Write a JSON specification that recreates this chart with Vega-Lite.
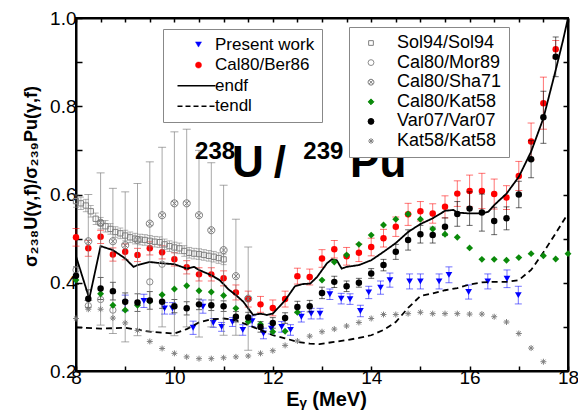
{
  "$schema": "https://vega.github.io/schema/vega-lite/v6.json",
  "width": 492,
  "height": 353,
  "autosize": {"type": "none"},
  "padding": {"left": 76, "top": 18, "right": 10, "bottom": 40},
  "background": "white",
  "config": {
    "font": "Liberation Sans",
    "view": {"stroke": "black", "strokeWidth": 2},
    "axis": {"domainColor": "black", "domainWidth": 2, "tickColor": "black", "tickWidth": 1.5, "labelColor": "black", "labelFontSize": 19, "labelFont": "Liberation Sans", "grid": false, "titleColor": "black", "titleFont": "Liberation Sans"}
  },
  "datasets": {
    "pts": [
      {"s": "Present work", "x": 9.0, "y": 0.354, "e": 0.018},
      {"s": "Present work", "x": 9.38, "y": 0.359, "e": 0.015},
      {"s": "Present work", "x": 9.8, "y": 0.342, "e": 0.013},
      {"s": "Present work", "x": 9.96, "y": 0.342, "e": 0.013},
      {"s": "Present work", "x": 10.38, "y": 0.298, "e": 0.015},
      {"s": "Present work", "x": 10.58, "y": 0.346, "e": 0.015},
      {"s": "Present work", "x": 10.79, "y": 0.309, "e": 0.01},
      {"s": "Present work", "x": 10.96, "y": 0.3, "e": 0.01},
      {"s": "Present work", "x": 11.18, "y": 0.311, "e": 0.01},
      {"s": "Present work", "x": 11.39, "y": 0.293, "e": 0.012},
      {"s": "Present work", "x": 11.58, "y": 0.313, "e": 0.012},
      {"s": "Present work", "x": 11.81, "y": 0.285, "e": 0.012},
      {"s": "Present work", "x": 11.97, "y": 0.296, "e": 0.012},
      {"s": "Present work", "x": 12.18, "y": 0.3, "e": 0.012},
      {"s": "Present work", "x": 12.36, "y": 0.293, "e": 0.012},
      {"s": "Present work", "x": 12.58, "y": 0.323, "e": 0.012},
      {"s": "Present work", "x": 12.78, "y": 0.33, "e": 0.012},
      {"s": "Present work", "x": 12.96, "y": 0.33, "e": 0.012},
      {"s": "Present work", "x": 13.16, "y": 0.374, "e": 0.012},
      {"s": "Present work", "x": 13.39, "y": 0.364, "e": 0.012},
      {"s": "Present work", "x": 13.57, "y": 0.363, "e": 0.012},
      {"s": "Present work", "x": 13.78, "y": 0.336, "e": 0.013},
      {"s": "Present work", "x": 13.95, "y": 0.378, "e": 0.014},
      {"s": "Present work", "x": 14.19, "y": 0.389, "e": 0.015},
      {"s": "Present work", "x": 14.38, "y": 0.406, "e": 0.016},
      {"s": "Present work", "x": 14.78, "y": 0.403, "e": 0.017},
      {"s": "Present work", "x": 15.0, "y": 0.403, "e": 0.017},
      {"s": "Present work", "x": 15.38, "y": 0.403, "e": 0.017},
      {"s": "Present work", "x": 15.58, "y": 0.418, "e": 0.018},
      {"s": "Present work", "x": 15.98, "y": 0.379, "e": 0.016},
      {"s": "Present work", "x": 16.37, "y": 0.403, "e": 0.017},
      {"s": "Present work", "x": 16.76, "y": 0.409, "e": 0.02},
      {"s": "Present work", "x": 16.99, "y": 0.372, "e": 0.02},
      {"s": "Cal80/Ber86", "x": 8.0, "y": 0.503, "e": 0.02},
      {"s": "Cal80/Ber86", "x": 8.25, "y": 0.478, "e": 0.018},
      {"s": "Cal80/Ber86", "x": 8.5, "y": 0.504, "e": 0.015},
      {"s": "Cal80/Ber86", "x": 8.75, "y": 0.464, "e": 0.015},
      {"s": "Cal80/Ber86", "x": 9.0, "y": 0.47, "e": 0.018},
      {"s": "Cal80/Ber86", "x": 9.25, "y": 0.463, "e": 0.015},
      {"s": "Cal80/Ber86", "x": 9.5, "y": 0.478, "e": 0.015},
      {"s": "Cal80/Ber86", "x": 9.75, "y": 0.469, "e": 0.015},
      {"s": "Cal80/Ber86", "x": 10.0, "y": 0.453, "e": 0.015},
      {"s": "Cal80/Ber86", "x": 10.25, "y": 0.435, "e": 0.015},
      {"s": "Cal80/Ber86", "x": 10.5, "y": 0.419, "e": 0.015},
      {"s": "Cal80/Ber86", "x": 10.75, "y": 0.419, "e": 0.015},
      {"s": "Cal80/Ber86", "x": 11.0, "y": 0.41, "e": 0.017},
      {"s": "Cal80/Ber86", "x": 11.25, "y": 0.378, "e": 0.017},
      {"s": "Cal80/Ber86", "x": 11.5, "y": 0.363, "e": 0.018},
      {"s": "Cal80/Ber86", "x": 11.75, "y": 0.351, "e": 0.018},
      {"s": "Cal80/Ber86", "x": 12.0, "y": 0.343, "e": 0.018},
      {"s": "Cal80/Ber86", "x": 12.25, "y": 0.363, "e": 0.018},
      {"s": "Cal80/Ber86", "x": 12.5, "y": 0.415, "e": 0.018},
      {"s": "Cal80/Ber86", "x": 12.75, "y": 0.413, "e": 0.018},
      {"s": "Cal80/Ber86", "x": 13.0, "y": 0.455, "e": 0.02},
      {"s": "Cal80/Ber86", "x": 13.25, "y": 0.476, "e": 0.02},
      {"s": "Cal80/Ber86", "x": 13.5, "y": 0.46, "e": 0.02},
      {"s": "Cal80/Ber86", "x": 13.75, "y": 0.468, "e": 0.02},
      {"s": "Cal80/Ber86", "x": 14.0, "y": 0.481, "e": 0.02},
      {"s": "Cal80/Ber86", "x": 14.25, "y": 0.501, "e": 0.02},
      {"s": "Cal80/Ber86", "x": 14.5, "y": 0.527, "e": 0.022},
      {"s": "Cal80/Ber86", "x": 14.75, "y": 0.555, "e": 0.025},
      {"s": "Cal80/Ber86", "x": 15.0, "y": 0.562, "e": 0.022},
      {"s": "Cal80/Ber86", "x": 15.25, "y": 0.557, "e": 0.022},
      {"s": "Cal80/Ber86", "x": 15.5, "y": 0.572, "e": 0.025},
      {"s": "Cal80/Ber86", "x": 15.75, "y": 0.602, "e": 0.029},
      {"s": "Cal80/Ber86", "x": 16.0, "y": 0.608, "e": 0.036},
      {"s": "Cal80/Ber86", "x": 16.25, "y": 0.608, "e": 0.04},
      {"s": "Cal80/Ber86", "x": 16.5, "y": 0.601, "e": 0.034},
      {"s": "Cal80/Ber86", "x": 16.75, "y": 0.593, "e": 0.027},
      {"s": "Cal80/Ber86", "x": 17.0, "y": 0.642, "e": 0.033},
      {"s": "Cal80/Ber86", "x": 17.25, "y": 0.72, "e": 0.042},
      {"s": "Cal80/Ber86", "x": 17.5, "y": 0.807, "e": 0.059},
      {"s": "Cal80/Ber86", "x": 17.75, "y": 0.929, "e": 0.02},
      {"s": "Var07/Var07", "x": 8.0, "y": 0.416, "e": 0.02},
      {"s": "Var07/Var07", "x": 8.25, "y": 0.364, "e": 0.02},
      {"s": "Var07/Var07", "x": 8.5, "y": 0.387, "e": 0.025},
      {"s": "Var07/Var07", "x": 8.75, "y": 0.381, "e": 0.02},
      {"s": "Var07/Var07", "x": 9.0, "y": 0.357, "e": 0.02},
      {"s": "Var07/Var07", "x": 9.25, "y": 0.355, "e": 0.02},
      {"s": "Var07/Var07", "x": 9.5, "y": 0.36, "e": 0.02},
      {"s": "Var07/Var07", "x": 9.75, "y": 0.357, "e": 0.015},
      {"s": "Var07/Var07", "x": 10.0, "y": 0.347, "e": 0.015},
      {"s": "Var07/Var07", "x": 10.25, "y": 0.342, "e": 0.015},
      {"s": "Var07/Var07", "x": 10.5, "y": 0.351, "e": 0.012},
      {"s": "Var07/Var07", "x": 10.75, "y": 0.349, "e": 0.012},
      {"s": "Var07/Var07", "x": 11.0, "y": 0.347, "e": 0.012},
      {"s": "Var07/Var07", "x": 11.25, "y": 0.323, "e": 0.012},
      {"s": "Var07/Var07", "x": 11.5, "y": 0.321, "e": 0.012},
      {"s": "Var07/Var07", "x": 11.75, "y": 0.3, "e": 0.012},
      {"s": "Var07/Var07", "x": 12.0, "y": 0.309, "e": 0.012},
      {"s": "Var07/Var07", "x": 12.25, "y": 0.32, "e": 0.012},
      {"s": "Var07/Var07", "x": 12.5, "y": 0.345, "e": 0.013},
      {"s": "Var07/Var07", "x": 12.75, "y": 0.347, "e": 0.013},
      {"s": "Var07/Var07", "x": 13.0, "y": 0.377, "e": 0.013},
      {"s": "Var07/Var07", "x": 13.25, "y": 0.402, "e": 0.013},
      {"s": "Var07/Var07", "x": 13.5, "y": 0.392, "e": 0.012},
      {"s": "Var07/Var07", "x": 13.75, "y": 0.4, "e": 0.01},
      {"s": "Var07/Var07", "x": 14.0, "y": 0.421, "e": 0.011},
      {"s": "Var07/Var07", "x": 14.25, "y": 0.44, "e": 0.013},
      {"s": "Var07/Var07", "x": 14.5, "y": 0.47, "e": 0.017},
      {"s": "Var07/Var07", "x": 14.75, "y": 0.497, "e": 0.023},
      {"s": "Var07/Var07", "x": 15.0, "y": 0.51, "e": 0.02},
      {"s": "Var07/Var07", "x": 15.25, "y": 0.508, "e": 0.018},
      {"s": "Var07/Var07", "x": 15.5, "y": 0.527, "e": 0.02},
      {"s": "Var07/Var07", "x": 15.75, "y": 0.556, "e": 0.028},
      {"s": "Var07/Var07", "x": 16.0, "y": 0.568, "e": 0.038},
      {"s": "Var07/Var07", "x": 16.25, "y": 0.559, "e": 0.042},
      {"s": "Var07/Var07", "x": 16.5, "y": 0.54, "e": 0.031},
      {"s": "Var07/Var07", "x": 16.75, "y": 0.546, "e": 0.026},
      {"s": "Var07/Var07", "x": 17.0, "y": 0.6, "e": 0.03},
      {"s": "Var07/Var07", "x": 17.25, "y": 0.68, "e": 0.042},
      {"s": "Var07/Var07", "x": 17.5, "y": 0.775, "e": 0.059},
      {"s": "Var07/Var07", "x": 17.75, "y": 0.912, "e": 0.045},
      {"s": "Cal80/Kat58", "x": 8.0, "y": 0.406},
      {"s": "Cal80/Kat58", "x": 8.5, "y": 0.375},
      {"s": "Cal80/Kat58", "x": 8.75, "y": 0.349},
      {"s": "Cal80/Kat58", "x": 9.0, "y": 0.338},
      {"s": "Cal80/Kat58", "x": 9.25, "y": 0.349},
      {"s": "Cal80/Kat58", "x": 9.5, "y": 0.358},
      {"s": "Cal80/Kat58", "x": 9.75, "y": 0.373},
      {"s": "Cal80/Kat58", "x": 10.0, "y": 0.386},
      {"s": "Cal80/Kat58", "x": 10.25, "y": 0.393},
      {"s": "Cal80/Kat58", "x": 10.5, "y": 0.382},
      {"s": "Cal80/Kat58", "x": 10.75, "y": 0.379},
      {"s": "Cal80/Kat58", "x": 11.0, "y": 0.371},
      {"s": "Cal80/Kat58", "x": 11.25, "y": 0.342},
      {"s": "Cal80/Kat58", "x": 11.5, "y": 0.312},
      {"s": "Cal80/Kat58", "x": 11.75, "y": 0.306},
      {"s": "Cal80/Kat58", "x": 12.0, "y": 0.289},
      {"s": "Cal80/Kat58", "x": 12.25, "y": 0.29},
      {"s": "Cal80/Kat58", "x": 12.5, "y": 0.333},
      {"s": "Cal80/Kat58", "x": 13.0, "y": 0.406},
      {"s": "Cal80/Kat58", "x": 13.25, "y": 0.447},
      {"s": "Cal80/Kat58", "x": 13.5, "y": 0.463},
      {"s": "Cal80/Kat58", "x": 13.75, "y": 0.487},
      {"s": "Cal80/Kat58", "x": 14.0, "y": 0.508},
      {"s": "Cal80/Kat58", "x": 14.25, "y": 0.531},
      {"s": "Cal80/Kat58", "x": 14.5, "y": 0.544},
      {"s": "Cal80/Kat58", "x": 14.75, "y": 0.556},
      {"s": "Cal80/Kat58", "x": 15.0, "y": 0.544},
      {"s": "Cal80/Kat58", "x": 15.25, "y": 0.522},
      {"s": "Cal80/Kat58", "x": 15.5, "y": 0.51},
      {"s": "Cal80/Kat58", "x": 15.75, "y": 0.503},
      {"s": "Cal80/Kat58", "x": 16.0, "y": 0.479},
      {"s": "Cal80/Kat58", "x": 16.25, "y": 0.453},
      {"s": "Cal80/Kat58", "x": 16.5, "y": 0.453},
      {"s": "Cal80/Kat58", "x": 16.75, "y": 0.451},
      {"s": "Cal80/Kat58", "x": 17.0, "y": 0.457},
      {"s": "Cal80/Kat58", "x": 17.25, "y": 0.466},
      {"s": "Cal80/Kat58", "x": 17.5, "y": 0.461},
      {"s": "Cal80/Kat58", "x": 17.75, "y": 0.454},
      {"s": "Cal80/Kat58", "x": 18.0, "y": 0.466},
      {"s": "Kat58/Kat58", "x": 8.0, "y": 0.319},
      {"s": "Kat58/Kat58", "x": 8.25, "y": 0.34},
      {"s": "Kat58/Kat58", "x": 8.5, "y": 0.34},
      {"s": "Kat58/Kat58", "x": 8.75, "y": 0.32},
      {"s": "Kat58/Kat58", "x": 9.0, "y": 0.309},
      {"s": "Kat58/Kat58", "x": 9.25, "y": 0.292},
      {"s": "Kat58/Kat58", "x": 9.5, "y": 0.267},
      {"s": "Kat58/Kat58", "x": 9.75, "y": 0.251},
      {"s": "Kat58/Kat58", "x": 10.0, "y": 0.24},
      {"s": "Kat58/Kat58", "x": 10.25, "y": 0.232},
      {"s": "Kat58/Kat58", "x": 10.5, "y": 0.228},
      {"s": "Kat58/Kat58", "x": 10.75, "y": 0.228},
      {"s": "Kat58/Kat58", "x": 11.0, "y": 0.23},
      {"s": "Kat58/Kat58", "x": 11.25, "y": 0.232},
      {"s": "Kat58/Kat58", "x": 11.5, "y": 0.234},
      {"s": "Kat58/Kat58", "x": 11.75, "y": 0.24},
      {"s": "Kat58/Kat58", "x": 12.0, "y": 0.246},
      {"s": "Kat58/Kat58", "x": 12.25, "y": 0.258},
      {"s": "Kat58/Kat58", "x": 12.5, "y": 0.268},
      {"s": "Kat58/Kat58", "x": 12.75, "y": 0.279},
      {"s": "Kat58/Kat58", "x": 13.0, "y": 0.289},
      {"s": "Kat58/Kat58", "x": 13.25, "y": 0.295},
      {"s": "Kat58/Kat58", "x": 13.5, "y": 0.302},
      {"s": "Kat58/Kat58", "x": 13.75, "y": 0.31},
      {"s": "Kat58/Kat58", "x": 14.0, "y": 0.319},
      {"s": "Kat58/Kat58", "x": 14.25, "y": 0.328},
      {"s": "Kat58/Kat58", "x": 14.5, "y": 0.328},
      {"s": "Kat58/Kat58", "x": 14.75, "y": 0.33},
      {"s": "Kat58/Kat58", "x": 15.0, "y": 0.333},
      {"s": "Kat58/Kat58", "x": 15.25, "y": 0.33},
      {"s": "Kat58/Kat58", "x": 15.5, "y": 0.33},
      {"s": "Kat58/Kat58", "x": 15.75, "y": 0.33},
      {"s": "Kat58/Kat58", "x": 16.0, "y": 0.329},
      {"s": "Kat58/Kat58", "x": 16.25, "y": 0.329},
      {"s": "Kat58/Kat58", "x": 16.5, "y": 0.323},
      {"s": "Kat58/Kat58", "x": 16.75, "y": 0.311},
      {"s": "Kat58/Kat58", "x": 17.0, "y": 0.285},
      {"s": "Kat58/Kat58", "x": 17.25, "y": 0.252},
      {"s": "Kat58/Kat58", "x": 17.5, "y": 0.221},
      {"s": "Sol94/Sol94", "x": 8.0, "y": 0.585, "e": 0.014},
      {"s": "Sol94/Sol94", "x": 8.1, "y": 0.58, "e": 0.014},
      {"s": "Sol94/Sol94", "x": 8.2, "y": 0.575, "e": 0.014},
      {"s": "Sol94/Sol94", "x": 8.3, "y": 0.562, "e": 0.013},
      {"s": "Sol94/Sol94", "x": 8.4, "y": 0.545, "e": 0.013},
      {"s": "Sol94/Sol94", "x": 8.5, "y": 0.535, "e": 0.013},
      {"s": "Sol94/Sol94", "x": 8.6, "y": 0.528, "e": 0.013},
      {"s": "Sol94/Sol94", "x": 8.7, "y": 0.522, "e": 0.012},
      {"s": "Sol94/Sol94", "x": 8.8, "y": 0.515, "e": 0.012},
      {"s": "Sol94/Sol94", "x": 8.9, "y": 0.512, "e": 0.012},
      {"s": "Sol94/Sol94", "x": 9.0, "y": 0.507, "e": 0.012},
      {"s": "Sol94/Sol94", "x": 9.1, "y": 0.503, "e": 0.012},
      {"s": "Sol94/Sol94", "x": 9.2, "y": 0.5, "e": 0.012},
      {"s": "Sol94/Sol94", "x": 9.3, "y": 0.498, "e": 0.012},
      {"s": "Sol94/Sol94", "x": 9.4, "y": 0.497, "e": 0.012},
      {"s": "Sol94/Sol94", "x": 9.5, "y": 0.495, "e": 0.012},
      {"s": "Sol94/Sol94", "x": 9.6, "y": 0.493, "e": 0.012},
      {"s": "Sol94/Sol94", "x": 9.7, "y": 0.492, "e": 0.012},
      {"s": "Sol94/Sol94", "x": 9.8, "y": 0.487, "e": 0.012},
      {"s": "Sol94/Sol94", "x": 9.9, "y": 0.483, "e": 0.012},
      {"s": "Sol94/Sol94", "x": 10.0, "y": 0.48, "e": 0.012},
      {"s": "Sol94/Sol94", "x": 10.1, "y": 0.478, "e": 0.012},
      {"s": "Sol94/Sol94", "x": 10.2, "y": 0.472, "e": 0.012},
      {"s": "Sol94/Sol94", "x": 10.3, "y": 0.468, "e": 0.012},
      {"s": "Sol94/Sol94", "x": 10.4, "y": 0.466, "e": 0.012},
      {"s": "Sol94/Sol94", "x": 10.5, "y": 0.465, "e": 0.012},
      {"s": "Sol94/Sol94", "x": 10.6, "y": 0.463, "e": 0.012},
      {"s": "Sol94/Sol94", "x": 10.7, "y": 0.461, "e": 0.012},
      {"s": "Sol94/Sol94", "x": 10.8, "y": 0.459, "e": 0.012},
      {"s": "Sol94/Sol94", "x": 10.9, "y": 0.456, "e": 0.012},
      {"s": "Sol94/Sol94", "x": 11.0, "y": 0.453, "e": 0.012},
      {"s": "Cal80/Mor89", "x": 8.0, "y": 0.429},
      {"s": "Cal80/Mor89", "x": 8.25, "y": 0.348},
      {"s": "Cal80/Mor89", "x": 8.5, "y": 0.362},
      {"s": "Cal80/Mor89", "x": 8.75, "y": 0.338},
      {"s": "Cal80/Mor89", "x": 9.5, "y": 0.402},
      {"s": "Cal80/Mor89", "x": 9.75, "y": 0.442},
      {"s": "Cal80/Sha71", "x": 8.25, "y": 0.494, "lo": 0.36, "hi": 0.6},
      {"s": "Cal80/Sha71", "x": 8.5, "y": 0.536, "lo": 0.304, "hi": 0.649},
      {"s": "Cal80/Sha71", "x": 8.75, "y": 0.494, "lo": 0.285, "hi": 0.614},
      {"s": "Cal80/Sha71", "x": 9.0, "y": 0.485, "lo": 0.266, "hi": 0.606},
      {"s": "Cal80/Sha71", "x": 9.25, "y": 0.497, "lo": 0.28, "hi": 0.625},
      {"s": "Cal80/Sha71", "x": 9.5, "y": 0.534, "lo": 0.29, "hi": 0.674},
      {"s": "Cal80/Sha71", "x": 9.75, "y": 0.553, "lo": 0.3, "hi": 0.707},
      {"s": "Cal80/Sha71", "x": 10.0, "y": 0.58, "lo": 0.28, "hi": 0.742},
      {"s": "Cal80/Sha71", "x": 10.25, "y": 0.58, "lo": 0.3, "hi": 0.748},
      {"s": "Cal80/Sha71", "x": 10.5, "y": 0.553, "lo": 0.277, "hi": 0.7},
      {"s": "Cal80/Sha71", "x": 10.75, "y": 0.519, "lo": 0.3, "hi": 0.672},
      {"s": "Cal80/Sha71", "x": 11.0, "y": 0.474, "lo": 0.281, "hi": 0.621},
      {"s": "Cal80/Sha71", "x": 11.25, "y": 0.415, "lo": 0.281, "hi": 0.544},
      {"s": "Cal80/Sha71", "x": 11.5, "y": 0.364, "lo": 0.247, "hi": 0.481}
    ],
    "lines": [
      {"s": "endf", "x": 8.0, "y": 0.46},
      {"s": "endf", "x": 8.27, "y": 0.364},
      {"s": "endf", "x": 8.5, "y": 0.483},
      {"s": "endf", "x": 8.75, "y": 0.474},
      {"s": "endf", "x": 9.0, "y": 0.455},
      {"s": "endf", "x": 9.17, "y": 0.436},
      {"s": "endf", "x": 9.25, "y": 0.44},
      {"s": "endf", "x": 9.5, "y": 0.447},
      {"s": "endf", "x": 9.75, "y": 0.444},
      {"s": "endf", "x": 10.0, "y": 0.442},
      {"s": "endf", "x": 10.25, "y": 0.432},
      {"s": "endf", "x": 10.4, "y": 0.436},
      {"s": "endf", "x": 10.5, "y": 0.429},
      {"s": "endf", "x": 10.75, "y": 0.417},
      {"s": "endf", "x": 10.92, "y": 0.406},
      {"s": "endf", "x": 11.1, "y": 0.385},
      {"s": "endf", "x": 11.25, "y": 0.372},
      {"s": "endf", "x": 11.4, "y": 0.357},
      {"s": "endf", "x": 11.5, "y": 0.342},
      {"s": "endf", "x": 11.6, "y": 0.327},
      {"s": "endf", "x": 11.75, "y": 0.33},
      {"s": "endf", "x": 11.88, "y": 0.327},
      {"s": "endf", "x": 12.0, "y": 0.33},
      {"s": "endf", "x": 12.25, "y": 0.36},
      {"s": "endf", "x": 12.45, "y": 0.392},
      {"s": "endf", "x": 12.6, "y": 0.397},
      {"s": "endf", "x": 12.76, "y": 0.398},
      {"s": "endf", "x": 12.9, "y": 0.413},
      {"s": "endf", "x": 13.1, "y": 0.444},
      {"s": "endf", "x": 13.2, "y": 0.453},
      {"s": "endf", "x": 13.3, "y": 0.451},
      {"s": "endf", "x": 13.4, "y": 0.432},
      {"s": "endf", "x": 13.5, "y": 0.436},
      {"s": "endf", "x": 13.75, "y": 0.44},
      {"s": "endf", "x": 14.0, "y": 0.451},
      {"s": "endf", "x": 14.25, "y": 0.47},
      {"s": "endf", "x": 14.5, "y": 0.49},
      {"s": "endf", "x": 14.75, "y": 0.515},
      {"s": "endf", "x": 15.0, "y": 0.533},
      {"s": "endf", "x": 15.25, "y": 0.546},
      {"s": "endf", "x": 15.5, "y": 0.563},
      {"s": "endf", "x": 15.67, "y": 0.565},
      {"s": "endf", "x": 15.75, "y": 0.559},
      {"s": "endf", "x": 16.0, "y": 0.557},
      {"s": "endf", "x": 16.26, "y": 0.557},
      {"s": "endf", "x": 16.38, "y": 0.561},
      {"s": "endf", "x": 16.5, "y": 0.576},
      {"s": "endf", "x": 16.75, "y": 0.602},
      {"s": "endf", "x": 17.0, "y": 0.64},
      {"s": "endf", "x": 17.25, "y": 0.697},
      {"s": "endf", "x": 17.5, "y": 0.773},
      {"s": "endf", "x": 17.75, "y": 0.882},
      {"s": "endf", "x": 17.9, "y": 0.95},
      {"s": "endf", "x": 18.0, "y": 1.0},
      {"s": "tendl", "x": 8.0, "y": 0.299},
      {"s": "tendl", "x": 8.5, "y": 0.296},
      {"s": "tendl", "x": 9.0, "y": 0.298},
      {"s": "tendl", "x": 9.5, "y": 0.289},
      {"s": "tendl", "x": 10.0, "y": 0.285},
      {"s": "tendl", "x": 10.25, "y": 0.295},
      {"s": "tendl", "x": 10.5, "y": 0.31},
      {"s": "tendl", "x": 10.75, "y": 0.317},
      {"s": "tendl", "x": 11.0, "y": 0.319},
      {"s": "tendl", "x": 11.25, "y": 0.315},
      {"s": "tendl", "x": 11.5, "y": 0.304},
      {"s": "tendl", "x": 11.75, "y": 0.293},
      {"s": "tendl", "x": 12.0, "y": 0.281},
      {"s": "tendl", "x": 12.25, "y": 0.274},
      {"s": "tendl", "x": 12.5, "y": 0.266},
      {"s": "tendl", "x": 12.75, "y": 0.262},
      {"s": "tendl", "x": 12.95, "y": 0.261},
      {"s": "tendl", "x": 13.25, "y": 0.266},
      {"s": "tendl", "x": 13.5, "y": 0.27},
      {"s": "tendl", "x": 13.75, "y": 0.275},
      {"s": "tendl", "x": 14.0, "y": 0.281},
      {"s": "tendl", "x": 14.25, "y": 0.293},
      {"s": "tendl", "x": 14.5, "y": 0.311},
      {"s": "tendl", "x": 14.75, "y": 0.343},
      {"s": "tendl", "x": 15.0, "y": 0.37},
      {"s": "tendl", "x": 15.25, "y": 0.376},
      {"s": "tendl", "x": 15.5, "y": 0.383},
      {"s": "tendl", "x": 15.75, "y": 0.388},
      {"s": "tendl", "x": 16.0, "y": 0.396},
      {"s": "tendl", "x": 16.25, "y": 0.401},
      {"s": "tendl", "x": 16.5, "y": 0.402},
      {"s": "tendl", "x": 16.75, "y": 0.402},
      {"s": "tendl", "x": 17.0, "y": 0.406},
      {"s": "tendl", "x": 17.25, "y": 0.429},
      {"s": "tendl", "x": 17.5, "y": 0.469},
      {"s": "tendl", "x": 17.75, "y": 0.512},
      {"s": "tendl", "x": 18.0, "y": 0.557}
    ]
  },
  "layer": [
    {
      "data": {"name": "pts"},
      "encoding": {
        "x": {"field": "x", "type": "quantitative", "scale": {"domain": [8, 18], "nice": false, "zero": false},
          "axis": {"orient": "bottom", "title": "Eᵧ (MeV)", "titleFontSize": 20, "titleFontWeight": "bold", "titleX": 250, "titleY": 34, "titleBaseline": "alphabetic", "titleAlign": "center",
            "values": [8, 8.5, 9, 9.5, 10, 10.5, 11, 11.5, 12, 12.5, 13, 13.5, 14, 14.5, 15, 15.5, 16, 16.5, 17, 17.5, 18],
            "format": "d", "labelExpr": "datum.value % 2 == 0 ? datum.label : ''", "labelFlush": false, "labelOverlap": false, "labelPadding": 2,
            "tickSize": -5}},
        "y": {"field": "y", "type": "quantitative", "scale": {"domain": [0.2, 1.0], "nice": false, "zero": false},
          "axis": {"orient": "left", "title": "σ₂₃₈U(γ,f)/σ₂₃₉Pu(γ,f)", "titleFontSize": 18, "titleFontWeight": "bold", "titleAngle": 270, "titleX": -40, "titleY": 158, "titleBaseline": "alphabetic", "titleAlign": "center",
            "values": [0.2, 0.3, 0.4, 0.5, 0.6, 0.7, 0.8, 0.9, 1.0],
            "labelExpr": "round(datum.value * 10) % 2 == 0 ? format(datum.value, '.1f') : ''", "labelFlush": false, "labelOverlap": false, "labelPadding": 6,
            "tickSize": -6}},
        "color": {"field": "s", "type": "nominal",
          "scale": {"domain": ["Present work", "Cal80/Ber86", "endf", "tendl"], "range": ["#0000ff", "#ff0000", "#000000", "#000000"]},
          "legend": {"orient": "none", "legendX": 87, "legendY": 11, "title": null,
            "strokeColor": "#888888", "fillColor": "white", "padding": 7,
            "labelFont": "Liberation Sans", "labelFontSize": 17, "labelColor": "black", "labelLimit": 300,
            "symbolSize": 100, "symbolStrokeWidth": 1.5, "symbolOffset": 20, "labelOffset": 8, "rowPadding": 2.6,
            "encode": {"symbols": {
              "update": {
                "shape": {"signal": "datum.value == 'Present work' ? 'triangle-down' : (datum.value == 'Cal80/Ber86' ? 'circle' : 'M-4.2,0H3.4')"},
                "size": {"signal": "(datum.value == 'endf' || datum.value == 'tendl') ? 100 : 36"},
                "fill": {"signal": "datum.value == 'Present work' ? '#0000ff' : (datum.value == 'Cal80/Ber86' ? '#ff0000' : '#000000')"},
                "stroke": {"signal": "datum.value == 'Present work' ? '#0000ff' : (datum.value == 'Cal80/Ber86' ? '#ff0000' : '#000000')"},
                "strokeWidth": {"signal": "(datum.value == 'endf' || datum.value == 'tendl') ? 1.5 : 0.5"},
                "strokeDash": {"signal": "datum.value == 'tendl' ? [5, 3] : [1, 0]"},
                "opacity": {"value": 1}
              }
            }}}}
      },
      "layer": [
        {"transform": [{"filter": "isValid(datum.e) && (datum.s == 'Present work' || datum.s == 'Cal80/Ber86')"}],
          "mark": {"type": "errorbar", "ticks": {"size": 7, "opacity": 0.55}, "rule": {"opacity": 0.55}},
          "encoding": {"yError": {"field": "e"}}},
        {"transform": [{"filter": "datum.s == 'Cal80/Ber86'"}],
          "mark": {"type": "point", "shape": "circle", "filled": true, "size": 42, "opacity": 1}},
        {"transform": [{"filter": "datum.s == 'Present work'"}],
          "mark": {"type": "point", "shape": "triangle-down", "filled": true, "size": 45, "opacity": 1}},
        {"data": {"name": "lines"},
          "mark": {"type": "line", "strokeWidth": 1.8},
          "encoding": {"strokeDash": {"field": "s", "type": "nominal", "scale": {"domain": ["endf", "tendl"], "range": [[1, 0], [6, 4]]}, "legend": null}}}
      ]
    },
    {
      "data": {"name": "pts"},
      "encoding": {
        "x": {"field": "x", "type": "quantitative", "scale": {"domain": [8, 18], "nice": false, "zero": false},
          "axis": {"orient": "top", "title": null, "labels": false,
            "values": [8, 8.5, 9, 9.5, 10, 10.5, 11, 11.5, 12, 12.5, 13, 13.5, 14, 14.5, 15, 15.5, 16, 16.5, 17, 17.5, 18],
            "tickSize": -4}},
        "y": {"field": "y", "type": "quantitative", "scale": {"domain": [0.2, 1.0], "nice": false, "zero": false},
          "axis": {"orient": "right", "title": null, "labels": false,
            "values": [0.2, 0.3, 0.4, 0.5, 0.6, 0.7, 0.8, 0.9, 1.0],
            "tickSize": -5}},
        "color": {"field": "s", "type": "nominal",
          "scale": {"domain": ["Sol94/Sol94", "Cal80/Mor89", "Cal80/Sha71", "Cal80/Kat58", "Var07/Var07", "Kat58/Kat58"], "range": ["#808080", "#8c8c8c", "#7a7a7a", "#0a8a0a", "#000000", "#808080"]},
          "legend": {"orient": "none", "legendX": 273, "legendY": 9, "title": null,
            "strokeColor": "#888888", "fillColor": "white", "padding": 7,
            "labelFont": "Liberation Sans", "labelFontSize": 18, "labelColor": "black", "labelLimit": 300,
            "symbolSize": 100, "symbolStrokeWidth": 1, "symbolOffset": 6, "labelOffset": 17, "rowPadding": 1.6,
            "encode": {"symbols": {
              "update": {
                "shape": {"signal": "datum.value == 'Sol94/Sol94' ? 'square' : (datum.value == 'Cal80/Sha71' ? 'M1,0A1,1,0,1,1,-1,0A1,1,0,1,1,1,0M-0.7,-0.7L0.7,0.7M-0.7,0.7L0.7,-0.7' : (datum.value == 'Cal80/Kat58' ? 'diamond' : (datum.value == 'Kat58/Kat58' ? 'M-1,0L1,0M0,-1L0,1M-0.7,-0.7L0.7,0.7M-0.7,0.7L0.7,-0.7' : 'circle')))"},
                "size": {"signal": "datum.value == 'Sol94/Sol94' ? 22 : 34"},
                "fill": {"signal": "datum.value == 'Cal80/Kat58' ? '#0a8a0a' : (datum.value == 'Var07/Var07' ? '#000000' : '#888888')"},
                "stroke": {"signal": "datum.value == 'Cal80/Kat58' ? '#0a8a0a' : (datum.value == 'Var07/Var07' ? '#000000' : '#888888')"},
                "fillOpacity": {"signal": "(datum.value == 'Cal80/Kat58' || datum.value == 'Var07/Var07') ? 1 : 0"},
                "strokeWidth": {"value": 1},
                "opacity": {"value": 1}
              }
            }}}}
      },
      "layer": [
        {"transform": [{"filter": "isValid(datum.e) && (datum.s == 'Sol94/Sol94' || datum.s == 'Var07/Var07')"}],
          "mark": {"type": "errorbar", "ticks": {"size": 6, "opacity": 0.6}, "rule": {"opacity": 0.6}},
          "encoding": {"yError": {"field": "e"}}},
        {"transform": [{"filter": "datum.s == 'Cal80/Sha71'"}],
          "mark": {"type": "errorbar", "ticks": {"size": 8, "opacity": 0.65}, "rule": {"opacity": 0.65}},
          "encoding": {
            "y": {"field": "lo", "type": "quantitative", "scale": {"domain": [0.2, 1.0], "nice": false, "zero": false},
              "axis": {"orient": "right", "title": null, "labels": false, "values": [0.2, 0.3, 0.4, 0.5, 0.6, 0.7, 0.8, 0.9, 1.0], "tickSize": -5}},
            "y2": {"field": "hi"}}},
        {"transform": [{"filter": "datum.s == 'Sol94/Sol94'"}],
          "mark": {"type": "point", "shape": "square", "filled": false, "size": 28, "strokeWidth": 1, "opacity": 1}},
        {"transform": [{"filter": "datum.s == 'Cal80/Mor89'"}],
          "mark": {"type": "point", "shape": "circle", "filled": false, "size": 40, "strokeWidth": 1, "opacity": 1}},
        {"transform": [{"filter": "datum.s == 'Cal80/Sha71'"}],
          "mark": {"type": "point", "shape": "M1,0A1,1,0,1,1,-1,0A1,1,0,1,1,1,0M-0.7,-0.7L0.7,0.7M-0.7,0.7L0.7,-0.7", "filled": false, "size": 50, "strokeWidth": 1, "opacity": 1}},
        {"transform": [{"filter": "datum.s == 'Kat58/Kat58'"}],
          "mark": {"type": "point", "shape": "M-1,0L1,0M0,-1L0,1M-0.7,-0.7L0.7,0.7M-0.7,0.7L0.7,-0.7", "filled": false, "size": 36, "strokeWidth": 1, "opacity": 1}},
        {"transform": [{"filter": "datum.s == 'Cal80/Kat58'"}],
          "mark": {"type": "point", "shape": "diamond", "filled": true, "size": 48, "opacity": 1}},
        {"transform": [{"filter": "datum.s == 'Var07/Var07'"}],
          "mark": {"type": "point", "shape": "circle", "filled": true, "size": 42, "opacity": 1}},
        {"data": {"name": "lines"},
          "transform": [{"filter": "datum.s == 'none'"}],
          "mark": {"type": "line", "strokeWidth": 1},
          "encoding": {"strokeDash": {"field": "s", "type": "nominal", "scale": {"domain": ["endf", "tendl"], "range": [[1, 0], [6, 4]]}, "legend": null}}}
      ]
    },
    {"data": {"values": [{}]},
      "mark": {"type": "text", "text": "238", "fontSize": 24, "fontWeight": "bold", "align": "left", "baseline": "alphabetic", "font": "Liberation Sans", "color": "black"},
      "encoding": {"x": {"datum": 10.42, "type": "quantitative", "axis": null}, "y": {"datum": 0.68, "type": "quantitative", "axis": null}}},
    {"data": {"values": [{}]},
      "mark": {"type": "text", "text": "U", "fontSize": 44, "fontWeight": "bold", "align": "left", "baseline": "alphabetic", "font": "Liberation Sans", "color": "black"},
      "encoding": {"x": {"datum": 11.17, "type": "quantitative", "axis": null}, "y": {"datum": 0.639, "type": "quantitative", "axis": null}}},
    {"data": {"values": [{}]},
      "mark": {"type": "text", "text": "/", "fontSize": 44, "fontWeight": "bold", "align": "left", "baseline": "alphabetic", "font": "Liberation Sans", "color": "black"},
      "encoding": {"x": {"datum": 12.02, "type": "quantitative", "axis": null}, "y": {"datum": 0.639, "type": "quantitative", "axis": null}}},
    {"data": {"values": [{}]},
      "mark": {"type": "text", "text": "239", "fontSize": 24, "fontWeight": "bold", "align": "left", "baseline": "alphabetic", "font": "Liberation Sans", "color": "black"},
      "encoding": {"x": {"datum": 12.62, "type": "quantitative", "axis": null}, "y": {"datum": 0.68, "type": "quantitative", "axis": null}}},
    {"data": {"values": [{}]},
      "mark": {"type": "text", "text": "Pu", "fontSize": 44, "fontWeight": "bold", "align": "left", "baseline": "alphabetic", "font": "Liberation Sans", "color": "black"},
      "encoding": {"x": {"datum": 13.57, "type": "quantitative", "axis": null}, "y": {"datum": 0.639, "type": "quantitative", "axis": null}}}
  ],
  "resolve": {"scale": {"color": "independent"}, "axis": {"x": "independent", "y": "independent"}}
}
